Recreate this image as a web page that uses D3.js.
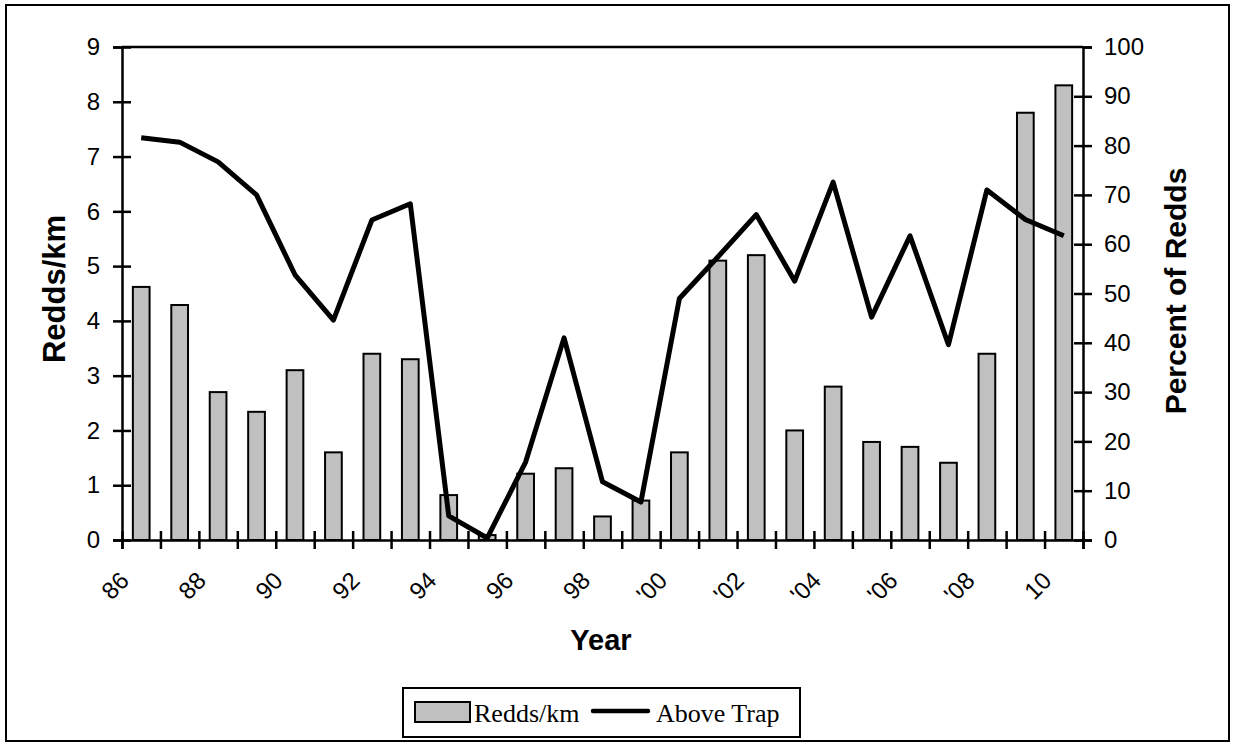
<!DOCTYPE html>
<html>
<head>
<meta charset="utf-8">
<script src="https://cdn.jsdelivr.net/npm/d3@7"></script>
<style>
  body { margin: 0; background: #fff; }
  svg text { font-family: "Liberation Sans", Arial, sans-serif; }
</style>
</head>
<body>
<svg id="chart"></svg>
<script>
const width = 1233, height = 746;

// data
const years = d3.range(1986, 2011);
const reddsPerKm = [4.62, 4.29, 2.7, 2.34, 3.1, 1.6, 3.4, 3.3, 0.82, 0.09, 1.21, 1.31, 0.43, 0.72,
    1.6, 5.1, 5.2, 2.0, 2.8, 1.79, 1.7, 1.41, 3.4, 7.8, 8.3];
const aboveTrap = [81.6, 80.7, 76.7, 70.0, 53.8, 44.6, 64.9, 68.2, 4.9, 0.4, 15.8, 41.0, 11.8, 7.7,
    49.0, 57.4, 66.0, 52.5, 72.6, 45.2, 61.7, 39.6, 71.0, 65.0, 61.7];
const yearLabels = ["86", "88", "90", "92", "94", "96", "98", "'00", "'02", "'04", "'06", "'08", "10"];
const leftTicks = d3.range(0, 10);
const rightTicks = d3.range(0, 101, 10);

const plotLeft = 122, plotRight = 1083, plotTop = 47, plotBottom = 540;

const svg = d3.select("#chart")
    .attr("width", width)
    .attr("height", height);

// outer chart border
svg.append("rect")
    .attr("x", 6).attr("y", 5)
    .attr("width", 1223).attr("height", 736)
    .attr("fill", "#fff")
    .attr("stroke", "#000")
    .attr("stroke-width", 2);

const x = d3.scaleBand()
    .domain(years)
    .range([plotLeft, plotRight])
    .paddingInner(0.565)
    .paddingOuter(0.2825);

const xb = d3.scaleLinear().domain([0, years.length]).range([plotLeft, plotRight]);
const y = d3.scaleLinear().domain([0, 9]).range([plotBottom, plotTop]);
const y2 = d3.scaleLinear().domain([0, 100]).range([plotBottom, plotTop]);

// top border of plot area
svg.append("line")
    .attr("x1", plotLeft).attr("x2", plotRight)
    .attr("y1", plotTop).attr("y2", plotTop)
    .attr("stroke", "#000").attr("stroke-width", 2.5);

// bars
svg.append("g")
    .selectAll("rect")
    .data(reddsPerKm)
    .join("rect")
    .attr("x", (d, i) => x(years[i]))
    .attr("y", d => y(d))
    .attr("width", x.bandwidth())
    .attr("height", d => y(0) - y(d))
    .attr("fill", "#c0c0c0")
    .attr("stroke", "#000")
    .attr("stroke-width", 2);

// line
const line = d3.line()
    .x((d, i) => x(years[i]) + x.bandwidth() / 2)
    .y(d => y2(d));

svg.append("path")
    .datum(aboveTrap)
    .attr("d", line)
    .attr("fill", "none")
    .attr("stroke", "#000")
    .attr("stroke-width", 5)
    .attr("stroke-linejoin", "round");

// left axis
const gl = svg.append("g")
    .attr("transform", `translate(${plotLeft},0)`)
    .call(d3.axisLeft(y).tickValues(leftTicks).tickSize(9).tickPadding(13));
gl.selectAll(".tick line").attr("x1", 9);

// right axis
const gr = svg.append("g")
    .attr("transform", `translate(${plotRight},0)`)
    .call(d3.axisRight(y2).tickValues(rightTicks).tickSize(9).tickPadding(12));
gr.selectAll(".tick line").attr("x1", -9);
gr.selectAll(".tick").filter(d => d === 100).select("line").attr("x1", 0);

// bottom axis, ticks on category boundaries
const gb = svg.append("g")
    .attr("transform", `translate(0,${plotBottom})`)
    .call(d3.axisBottom(xb).tickValues(d3.range(0, years.length + 1)).tickSize(9).tickFormat(""));
gb.selectAll(".tick line").attr("y1", -9);

gb.selectAll(".tick")
    .filter(d => d % 2 === 0)
    .append("text")
    .attr("fill", "#000")
    .attr("text-anchor", "end")
    .attr("transform", "translate(8,42) rotate(-45)")
    .text(d => yearLabels[d / 2]);

svg.selectAll(".domain").attr("stroke-width", 2.5);
svg.selectAll(".tick line").attr("stroke-width", 2.5);
svg.selectAll(".tick text").attr("font-size", 24);

// axis titles
svg.append("text")
    .attr("transform", "translate(65,289) rotate(-90)")
    .attr("text-anchor", "middle")
    .attr("font-size", 31).attr("font-weight", "bold")
    .text("Redds/km");

svg.append("text")
    .attr("transform", "translate(1186,291) rotate(-90)")
    .attr("text-anchor", "middle")
    .attr("font-size", 30).attr("font-weight", "bold")
    .text("Percent of Redds");

svg.append("text")
    .attr("x", 601).attr("y", 650)
    .attr("text-anchor", "middle")
    .attr("font-size", 29).attr("font-weight", "bold")
    .text("Year");

// legend
const lg = svg.append("g");
lg.append("rect")
    .attr("x", 403).attr("y", 688)
    .attr("width", 397).attr("height", 49)
    .attr("fill", "#fff").attr("stroke", "#000").attr("stroke-width", 2);
lg.append("rect")
    .attr("x", 415).attr("y", 702)
    .attr("width", 55).attr("height", 20)
    .attr("fill", "#c0c0c0").attr("stroke", "#000").attr("stroke-width", 2);
lg.append("text")
    .attr("x", 474).attr("y", 722)
    .style("font-family", "'Liberation Serif', 'Times New Roman', serif")
    .attr("font-size", 26)
    .text("Redds/km");
lg.append("line")
    .attr("x1", 593).attr("x2", 648)
    .attr("y1", 711).attr("y2", 711)
    .attr("stroke", "#000").attr("stroke-width", 4.5).attr("stroke-linecap", "round");
lg.append("text")
    .attr("x", 656).attr("y", 722)
    .style("font-family", "'Liberation Serif', 'Times New Roman', serif")
    .attr("font-size", 26)
    .text("Above Trap");
</script>
</body>
</html>
